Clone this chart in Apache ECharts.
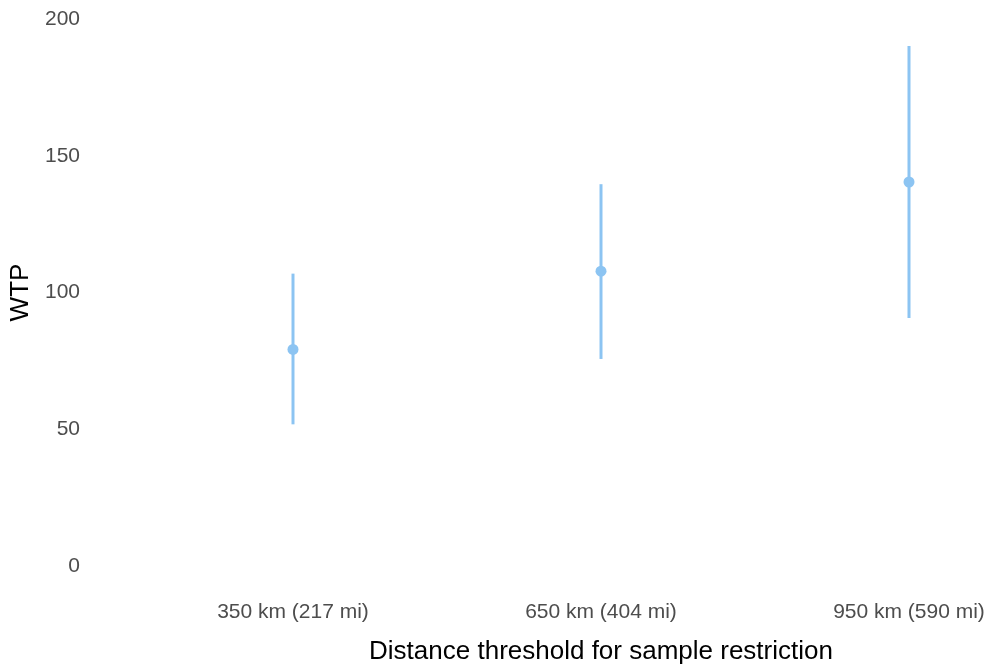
<!DOCTYPE html>
<html><head><meta charset="utf-8">
<script src="https://cdn.jsdelivr.net/npm/echarts@6/dist/echarts.min.js"></script>
<style>html,body{margin:0;padding:0;background:#fff;overflow:hidden;width:992px;height:668px}#c{width:1100px;height:668px}</style>
</head><body><div id="c"></div>
<script>
const categories = ['350 km (217 mi)', '650 km (404 mi)', '950 km (590 mi)'];
const wtp = [79.2, 107.8, 140.4];
const lower = [51.8, 75.7, 90.7];
const upper = [106.9, 139.6, 190.1];
const yTicks = [0, 50, 100, 150, 200];

const chart = echarts.init(document.getElementById('c'), null, {renderer: 'canvas'});
const color = '#8CC4F2';
const font = 'Liberation Sans, Arial';
chart.setOption({
  animation: false,
  backgroundColor: '#ffffff',
  grid: {left: 139, right: 37, top: 19, bottom: 102, containLabel: false, outerBoundsMode: 'none'},
  xAxis: {
    type: 'category', data: categories, boundaryGap: true,
    axisLine: {show: false}, axisTick: {show: false}, splitLine: {show: false},
    axisLabel: {color: '#4d4d4d', fontSize: 21, fontFamily: font, margin: 36},
    name: 'Distance threshold for sample restriction', nameLocation: 'middle', nameGap: 73,
    nameTextStyle: {color: '#000', fontSize: 26, fontFamily: font}
  },
  yAxis: {
    type: 'value', min: yTicks[0], max: yTicks[yTicks.length-1], interval: 50,
    axisLine: {show: false}, axisTick: {show: false}, splitLine: {show: false},
    axisLabel: {color: '#4d4d4d', fontSize: 21, fontFamily: font, margin: 59, padding: [4, 0, 0, 0]},
    name: 'WTP', nameLocation: 'middle', nameGap: 102, nameRotate: 90,
    nameTextStyle: {color: '#000', fontSize: 26, fontFamily: font}
  },
  series: [
    {
      type: 'custom',
      data: categories.map((c, i) => [i, lower[i], upper[i]]),
      renderItem: function (params, api) {
        const lo = api.coord([api.value(0), api.value(1)]);
        const hi = api.coord([api.value(0), api.value(2)]);
        return {type: 'line', shape: {x1: lo[0], y1: lo[1], x2: hi[0], y2: hi[1]},
          style: {stroke: color, lineWidth: 3}};
      },
      z: 1
    },
    {
      type: 'scatter',
      data: wtp,
      symbol: 'circle', symbolSize: 11,
      itemStyle: {color: color, opacity: 1},
      z: 2
    }
  ]
});
</script></body></html>
